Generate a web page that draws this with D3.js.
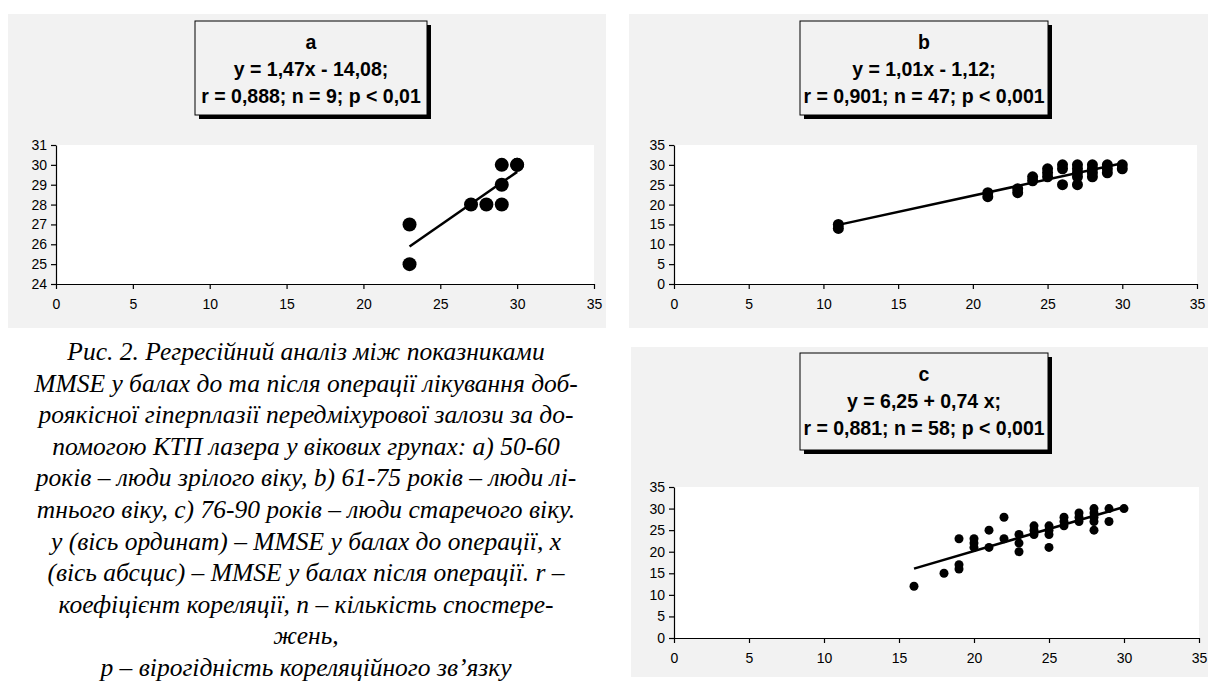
<!DOCTYPE html>
<html><head><meta charset="utf-8">
<script src="https://cdn.jsdelivr.net/npm/d3@7"></script>
<style>body{margin:0;background:#fff} svg{display:block}</style>
</head><body>
<svg id="chart" width="1208" height="684"></svg>
<script>
// ---------- data ----------
const xTicks = [0, 5, 10, 15, 20, 25, 30, 35];
const aYTicks = [24, 25, 26, 27, 28, 29, 30, 31];
const bcYTicks = [0, 5, 10, 15, 20, 25, 30, 35];

// panel a (MMSE after vs before), 50-60 years
const aX = [23, 23, 27, 28, 29, 29, 29, 30, 30];
const aY = [25, 27, 28, 28, 28, 29, 30, 30, 30];

// panel b, 61-75 years
const bX = [11, 11, 21, 21, 23, 23, 24, 24, 25, 25, 25, 26, 26, 26, 27, 27, 27, 27, 27, 28, 28, 28, 28, 29, 29, 29, 30, 30];
const bY = [14, 15, 22, 23, 23, 24, 26, 27, 27, 28, 29, 25, 29, 30, 25, 27, 28, 29, 30, 27, 28, 29, 30, 28, 29, 30, 29, 30];

// panel c, 76-90 years
const cX = [16, 18, 19, 19, 19, 20, 20, 20, 21, 21, 22, 22, 23, 23, 23, 24, 24, 24, 25, 25, 25, 25, 26, 26, 26, 27, 27, 27, 28, 28, 28, 28, 28, 29, 29, 30];
const cY = [12, 15, 16, 17, 23, 21, 22, 23, 21, 25, 23, 28, 20, 22, 24, 24, 25, 26, 21, 24, 25, 26, 26, 27, 28, 27, 28, 29, 25, 27, 28, 29, 30, 27, 30, 30];

const aTitle = ["a", "y = 1,47x - 14,08;", "r = 0,888; n = 9; p < 0,01"];
const bTitle = ["b", "y = 1,01x - 1,12;", "r = 0,901; n = 47; p < 0,001"];
const cTitle = ["c", "y = 6,25 + 0,74 x;", "r = 0,881; n = 58; p < 0,001"];

const captionLines = [
  "Рис. 2. Регресійний аналіз між показниками",
  "MMSE у балах до та після операції лікування доб-",
  "роякісної гіперплазії передміхурової залози за до-",
  "помогою КТП лазера у вікових групах: a) 50-60",
  "років – люди зрілого віку, b) 61-75 років – люди лі-",
  "тнього віку, c) 76-90 років – люди старечого віку.",
  "y (вісь ординат) – MMSE у балах до операції, x",
  "(вісь абсцис) – MMSE у балах після операції. r –",
  "коефіцієнт кореляції, n – кількість спостере-",
  "жень,",
  "p – вірогідність кореляційного зв’язку"
];

// ---------- layout ----------
const svg = d3.select("#chart");
const panels = [
  {xs: aX, ys: aY, title: aTitle, yTicks: aYTicks, yDom: [24, 31], r: 7,
   bg: [8, 14, 598, 314], box: [195, 21, 232, 94], plot: [56, 594, 145, 284]},
  {xs: bX, ys: bY, title: bTitle, yTicks: bcYTicks, yDom: [0, 35], r: 5.5,
   bg: [629, 14, 579, 314], box: [800, 21, 248, 94], plot: [674, 1197, 145, 284]},
  {xs: cX, ys: cY, title: cTitle, yTicks: bcYTicks, yDom: [0, 35], r: 4.5,
   bg: [631, 347, 577, 330], box: [800, 353, 248, 97], plot: [674, 1199, 487, 638]}
];

function linreg(xs, ys) {
  const n = xs.length, mx = d3.mean(xs), my = d3.mean(ys);
  let sxy = 0, sxx = 0;
  for (let i = 0; i < n; i++) { sxy += (xs[i]-mx)*(ys[i]-my); sxx += (xs[i]-mx)**2; }
  const k = sxy / sxx; return x => my + k*(x - mx);
}

panels.forEach(p => {
  const g = svg.append("g");
  g.append("rect").attr("x", p.bg[0]).attr("y", p.bg[1]).attr("width", p.bg[2]).attr("height", p.bg[3]).attr("fill", "#f2f2f2");
  const [bx, by, bw, bh] = p.box;
  g.append("rect").attr("x", bx+4).attr("y", by+4).attr("width", bw).attr("height", bh).attr("fill", "#000");
  g.append("rect").attr("x", bx).attr("y", by).attr("width", bw).attr("height", bh).attr("fill", "#f2f2f2").attr("stroke", "#000").attr("stroke-width", 1);
  p.title.forEach((t, i) => {
    g.append("text").attr("x", bx + bw/2).attr("y", by + 28 + i*27)
      .attr("text-anchor", "middle").attr("font-family", "Liberation Sans, Arial, sans-serif")
      .attr("font-weight", "bold").attr("font-size", 19.5).attr("fill", "#000").text(t);
  });
  const [x0, x1, y0, y1] = p.plot;
  const x = d3.scaleLinear().domain([0, 35]).range([x0, x1]);
  const y = d3.scaleLinear().domain(p.yDom).range([y1, y0]);
  g.append("rect").attr("x", x0).attr("y", y0).attr("width", x1 - x0).attr("height", y1 - y0).attr("fill", "#fff");
  const ax = g.append("g").attr("transform", `translate(0,${y1})`)
    .call(d3.axisBottom(x).tickValues(xTicks).tickSize(5).tickSizeOuter(0).tickPadding(10).tickFormat(d3.format("d")));
  const ay = g.append("g").attr("transform", `translate(${x0},0)`)
    .call(d3.axisLeft(y).tickValues(p.yTicks).tickSize(5).tickSizeOuter(0).tickPadding(4).tickFormat(d3.format("d")));
  [ax, ay].forEach(a => {
    a.selectAll("text").attr("font-family", "Liberation Sans, Arial, sans-serif").attr("font-size", 14).attr("fill", "#000");
    a.selectAll("line,path").attr("stroke", "#000").attr("stroke-width", 1.2);
  });
  g.append("g").selectAll("circle").data(p.xs.map((v, i) => [v, p.ys[i]])).join("circle")
    .attr("cx", d => x(d[0])).attr("cy", d => y(d[1])).attr("r", p.r).attr("fill", "#000");
  const f = linreg(p.xs, p.ys);
  const ext = d3.extent(p.xs);
  g.append("path").attr("d", d3.line().x(d => x(d)).y(d => y(f(d)))(ext))
    .attr("stroke", "#000").attr("stroke-width", 2.5).attr("fill", "none");
});

// caption
captionLines.forEach((t, i) => {
  svg.append("text").attr("x", 306).attr("y", 360 + i*31.6).attr("text-anchor", "middle")
    .attr("font-family", "Liberation Serif, Times New Roman, serif").attr("font-style", "italic")
    .attr("font-size", 25.5).attr("fill", "#000").text(t);
});
</script>
</body></html>
